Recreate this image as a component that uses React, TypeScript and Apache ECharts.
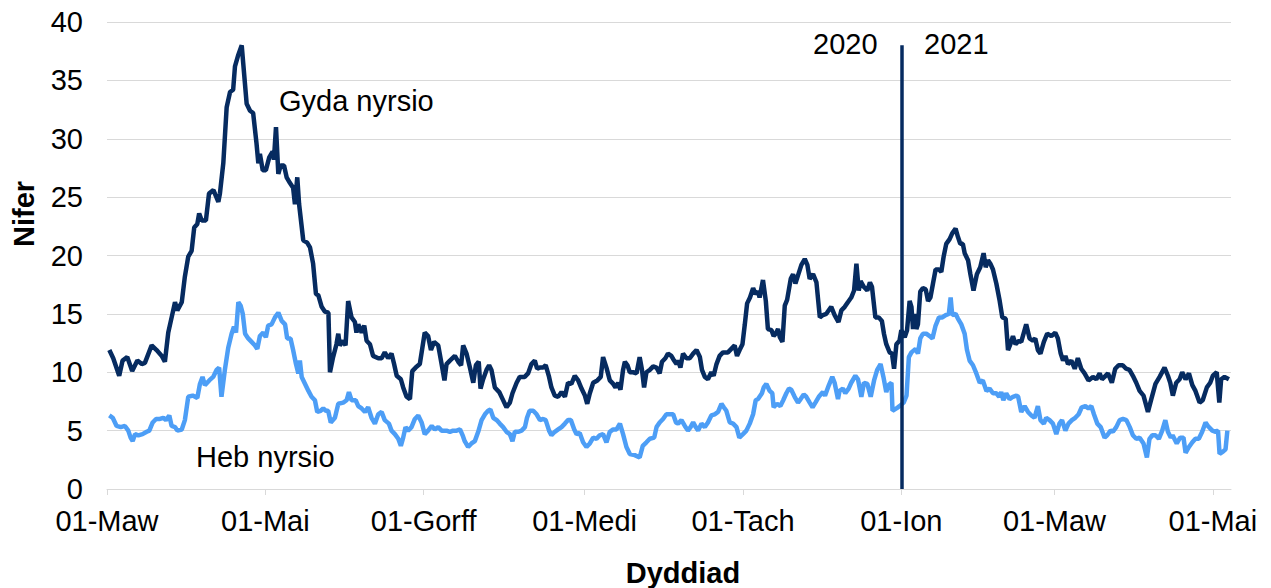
import React, { useEffect, useRef } from 'react';
import * as echarts from 'echarts';

// x values are days since 01-Mar-2020
const tickDays = [0, 61, 122, 184, 245, 306, 365, 426];
const tickLabels = ['01-Maw', '01-Mai', '01-Gorff', '01-Medi', '01-Tach', '01-Ion', '01-Maw', '01-Mai'];
const yearSplitDay = 306;

const withNursing: [number, number][] = [
  [0.9,11.9],[2.4,11.2],[4.7,9.7],[6.0,11.0],[7.8,11.3],[9.7,10.1],[11.7,11.0],[13.4,10.7],[14.6,10.8],[17.2,12.3],
  [19.1,11.9],[21.1,11.4],[22.3,10.9],[23.6,13.4],[24.9,14.7],[26.2,16.0],[27.1,15.3],[28.8,16.0],[30.0,18.2],[31.3,19.9],
  [32.6,20.4],[33.6,22.4],[34.8,22.7],[35.5,23.6],[36.5,23.0],[38.1,23.0],[39.3,25.3],[41.0,25.6],[42.9,24.6],[43.5,25.3],
  [44.8,27.9],[46.1,32.7],[47.4,34.0],[48.6,34.2],[49.3,36.2],[50.6,37.2],[51.9,38.0],[52.5,36.4],[53.8,33.0],[55.1,32.4],
  [56.3,32.2],[57.6,29.6],[58.3,27.9],[58.9,28.7],[60.0,27.3],[61.2,27.3],[62.5,28.4],[63.8,28.9],[64.3,28.2],[65.1,31.0],
  [66.0,27.0],[66.9,27.7],[68.2,27.7],[69.2,26.7],[70.5,26.2],[71.7,25.8],[72.4,24.4],[73.3,26.7],[74.0,24.4],[75.6,21.3],
  [77.1,21.1],[78.2,20.7],[79.4,19.3],[80.5,16.7],[81.4,16.6],[82.7,15.6],[83.9,15.2],[85.3,15.1],[85.9,10.0],[87.1,11.3],
  [88.4,12.4],[89.1,13.3],[89.7,12.3],[91.0,12.7],[91.9,12.3],[92.9,16.1],[94.2,14.7],[95.5,14.3],[96.1,13.4],[96.8,14.1],
  [98.1,13.4],[99.1,14.0],[100.0,12.7],[101.3,12.4],[102.5,11.4],[104.5,11.2],[105.8,11.2],[107.0,11.7],[108.3,11.2],[109.6,11.6],
  [110.6,10.7],[111.6,9.7],[113.2,9.4],[114.1,8.7],[115.4,7.9],[116.7,7.7],[117.6,10.1],[118.9,10.4],[120.5,10.7],[122.4,13.4],
  [123.7,13.1],[124.8,11.9],[126.0,12.6],[127.6,12.3],[128.9,10.7],[130.0,9.3],[130.8,10.7],[132.1,11.0],[134.0,11.4],[135.3,10.9],
  [136.4,10.6],[137.2,12.3],[138.5,11.6],[139.8,10.4],[141.1,9.1],[142.1,10.6],[143.2,10.9],[143.9,8.6],[144.9,9.4],[146.2,10.2],
  [147.2,10.6],[148.1,10.2],[149.4,8.7],[151.1,8.3],[152.4,7.7],[153.9,7.0],[155.2,7.4],[156.2,8.2],[157.8,9.1],[159.0,9.6],
  [160.9,9.6],[162.2,9.9],[163.5,10.7],[164.8,11.0],[165.7,10.3],[166.7,10.4],[168.0,10.4],[169.0,10.6],[170.3,9.6],[171.2,8.7],
  [172.5,8.0],[173.8,7.9],[175.1,8.3],[176.4,7.9],[177.6,9.1],[178.9,9.0],[180.2,9.7],[181.5,9.3],[182.8,8.6],[184.1,8.0],
  [185.0,7.3],[186.0,8.2],[187.3,9.1],[188.9,9.3],[190.2,9.6],[191.1,11.3],[192.4,10.4],[193.7,9.3],[195.0,9.0],[195.9,8.7],
  [196.9,9.1],[197.8,8.5],[198.8,10.2],[199.5,10.9],[200.5,10.6],[201.4,10.0],[202.7,10.0],[204.0,9.9],[205.2,11.3],[206.1,10.2],
  [206.9,8.7],[207.8,10.0],[209.1,10.2],[210.4,10.5],[211.7,10.4],[212.9,9.9],[213.8,10.9],[215.1,11.2],[216.1,11.6],[217.4,11.4],
  [218.2,11.1],[219.4,10.7],[220.0,11.0],[220.9,10.4],[221.9,11.6],[223.2,11.2],[224.5,11.2],[225.8,11.6],[227.1,11.9],[228.4,11.3],
  [229.2,10.2],[230.3,9.6],[231.5,9.4],[232.8,10.0],[233.7,9.7],[234.8,10.7],[236.0,11.4],[237.3,11.7],[239.2,11.7],[240.5,12.0],
  [241.8,12.3],[242.7,11.4],[243.7,11.9],[244.8,12.4],[245.7,14.1],[246.6,15.9],[247.7,16.4],[248.9,17.2],[249.9,16.7],[250.8,16.9],
  [251.4,16.4],[252.7,17.9],[253.8,16.1],[254.6,13.7],[256.0,13.6],[256.8,13.1],[257.6,13.3],[258.5,13.7],[259.2,13.0],[260.2,12.6],
  [261.1,15.7],[262.0,16.2],[263.4,18.0],[264.3,18.4],[265.2,17.6],[266.2,18.3],[267.5,19.2],[268.8,19.7],[269.8,19.2],[270.7,18.0],
  [272.0,18.4],[273.3,17.7],[274.6,14.7],[275.8,14.9],[277.1,15.0],[277.7,15.2],[279.0,15.6],[280.3,14.9],[281.8,14.3],[282.9,15.3],
  [284.2,15.6],[285.4,16.0],[286.7,16.4],[287.8,17.0],[288.7,19.3],[289.6,17.0],[290.3,17.8],[291.6,17.3],[292.9,17.0],[293.9,17.7],
  [294.7,17.3],[296.0,14.7],[297.3,14.7],[298.5,14.4],[299.3,13.3],[300.2,12.4],[301.5,11.7],[302.4,11.6],[303.2,10.3],[304.1,12.4],
  [305.3,12.7],[306.0,13.6],[307.3,13.0],[308.2,13.6],[309.2,16.1],[309.9,15.6],[310.5,13.7],[311.1,15.0],[311.8,13.7],[312.4,14.1],
  [313.3,16.9],[314.3,17.2],[315.4,17.1],[316.3,16.1],[317.2,16.4],[318.2,17.6],[319.2,18.8],[320.5,18.8],[321.4,18.6],[322.3,19.9],
  [323.3,21.0],[324.6,21.4],[325.6,21.9],[326.9,22.3],[327.8,21.6],[328.7,21.0],[329.7,21.0],[330.4,20.2],[331.7,19.6],[332.6,18.4],
  [333.8,17.0],[335.1,18.4],[336.4,19.0],[337.7,20.2],[338.5,19.0],[339.4,19.6],[340.3,19.3],[341.3,18.8],[342.6,17.6],[343.9,16.1],
  [344.9,14.7],[346.2,14.6],[347.1,11.9],[348.0,12.4],[349.0,13.1],[350.0,12.4],[351.3,12.7],[352.2,12.6],[354.1,14.1],[355.4,12.9],
  [356.7,12.7],[357.6,12.9],[358.6,11.9],[359.6,11.6],[360.9,12.6],[362.2,13.3],[363.8,13.1],[365.3,13.4],[366.3,12.9],[367.4,11.6],
  [368.3,11.0],[369.2,11.4],[370.2,10.7],[371.5,11.0],[372.8,10.3],[374.0,11.2],[375.3,10.3],[376.6,9.9],[378.1,9.3],[379.8,9.6],
  [381.1,9.4],[382.4,9.9],[383.3,9.4],[384.3,9.6],[385.6,9.9],[387.1,9.1],[388.4,10.3],[389.7,10.6],[391.3,10.6],[392.6,10.3],
  [393.9,10.2],[395.2,9.7],[396.5,9.1],[397.8,8.4],[399.3,8.0],[401.0,6.6],[402.3,7.7],[403.9,9.0],[405.5,9.6],[407.4,10.4],
  [408.7,9.7],[409.6,9.1],[410.6,8.0],[411.9,9.1],[413.2,9.4],[414.2,10.0],[415.5,9.4],[416.8,9.9],[418.1,8.9],[419.3,8.4],
  [420.9,7.4],[422.1,7.6],[423.7,8.7],[425.0,9.1],[426.0,9.7],[427.5,10.0],[428.5,7.4],[429.2,9.4],[430.5,9.6],[432.2,9.4]
];

const withoutNursing: [number, number][] = [
  [0.9,6.3],[2.2,6.1],[3.7,5.4],[5.3,5.3],[6.9,5.4],[8.2,5.0],[9.1,4.4],[9.9,4.1],[10.8,4.7],[12.1,4.6],
  [13.7,4.7],[15.3,4.9],[16.3,5.0],[17.6,5.7],[18.9,6.0],[20.4,6.0],[21.7,6.1],[22.7,5.9],[24.0,6.3],[24.9,5.4],
  [26.2,5.3],[27.1,5.0],[28.8,5.1],[30.0,5.9],[31.3,7.9],[33.0,8.0],[34.8,7.8],[35.8,9.0],[36.8,9.6],[37.7,8.9],
  [39.4,9.3],[40.9,9.6],[42.2,10.2],[43.2,10.4],[44.1,7.9],[45.4,10.2],[46.7,12.1],[48.0,13.3],[48.9,13.9],[49.7,13.4],
  [50.6,16.0],[51.5,15.7],[52.3,15.0],[53.2,13.3],[54.4,12.9],[55.7,12.6],[57.0,12.3],[57.9,12.0],[58.9,13.1],[60.2,13.4],
  [61.2,13.0],[62.1,14.0],[63.4,14.1],[64.7,14.7],[66.0,15.1],[67.3,14.4],[68.6,14.1],[69.4,12.9],[70.7,12.9],[71.7,11.9],
  [72.8,10.7],[73.7,9.9],[74.3,11.0],[75.0,9.6],[76.3,9.0],[77.6,8.4],[78.8,7.9],[80.1,7.6],[81.0,6.6],[82.3,6.7],
  [83.3,6.9],[84.3,6.7],[85.2,6.7],[86.2,5.7],[87.8,6.1],[89.1,7.3],[91.0,7.4],[92.3,7.6],[93.2,8.3],[94.2,7.6],
  [95.8,7.6],[96.8,7.1],[98.1,6.9],[99.4,6.6],[100.6,7.0],[101.9,6.1],[103.2,5.6],[104.5,6.4],[105.8,6.6],[107.0,5.9],
  [108.6,5.6],[109.6,5.0],[110.9,4.7],[112.2,4.3],[113.2,3.7],[114.1,4.4],[115.0,5.3],[116.0,5.0],[117.3,5.3],[118.6,6.0],
  [119.9,6.3],[121.2,5.7],[122.4,4.7],[123.7,5.0],[125.1,5.4],[126.3,5.1],[127.6,5.3],[128.9,5.0],[130.8,5.0],[132.1,4.9],
  [133.3,5.0],[134.7,5.0],[136.0,5.1],[137.0,4.6],[137.8,4.1],[139.1,3.6],[140.4,3.9],[141.7,4.1],[143.0,4.9],[144.3,5.9],
  [145.6,6.4],[146.8,6.7],[147.7,6.8],[148.8,6.1],[150.1,5.9],[151.3,5.6],[152.6,5.3],[153.9,4.9],[155.2,4.7],[156.2,4.1],
  [157.1,4.9],[158.4,4.9],[159.7,5.0],[161.0,5.3],[161.8,6.1],[162.8,6.7],[164.2,6.7],[165.5,6.4],[166.8,5.9],[168.0,6.0],
  [169.0,5.9],[170.3,5.0],[171.2,4.6],[172.5,4.9],[173.8,5.1],[175.1,5.3],[176.4,5.6],[177.6,5.9],[178.7,5.9],[180.0,5.1],
  [180.9,4.7],[182.1,4.8],[183.4,4.0],[184.7,3.6],[186.0,3.9],[187.3,4.4],[188.6,4.3],[189.8,4.6],[191.1,4.7],[192.4,4.0],
  [193.7,4.9],[195.0,5.1],[196.3,5.1],[197.6,5.6],[198.8,4.7],[200.1,3.6],[201.4,3.0],[203.3,2.9],[205.2,2.7],[206.4,3.7],
  [207.8,4.0],[209.1,4.3],[210.8,4.4],[211.7,5.3],[212.9,5.7],[214.2,6.0],[215.5,6.4],[216.8,6.4],[218.1,6.4],[219.2,5.7],
  [220.0,5.6],[221.3,5.9],[222.6,5.4],[223.8,5.0],[224.8,5.3],[225.8,5.7],[226.8,5.3],[227.7,5.0],[229.0,5.6],[230.3,5.3],
  [231.5,5.7],[232.8,6.3],[234.1,6.4],[235.4,6.6],[236.7,7.3],[237.6,7.0],[238.6,6.7],[239.9,5.7],[241.2,5.6],[242.5,5.3],
  [243.6,4.4],[245.0,4.7],[246.3,5.0],[247.6,5.6],[248.9,6.4],[249.9,7.6],[250.8,7.7],[252.3,8.2],[253.0,8.7],[254.0,9.0],
  [255.3,8.4],[256.3,8.2],[256.8,7.0],[258.1,7.3],[259.4,7.1],[260.5,7.6],[261.7,8.2],[262.7,8.6],[263.6,8.5],[264.9,7.9],
  [266.2,7.4],[267.2,7.7],[268.4,8.1],[269.4,7.9],[270.7,7.4],[271.8,7.0],[272.9,7.4],[274.2,7.9],[275.8,8.3],[276.6,8.0],
  [278.1,8.9],[279.4,9.6],[280.3,9.1],[281.6,7.7],[282.2,8.4],[283.5,8.6],[284.4,8.2],[285.7,8.6],[286.7,9.1],[288.3,9.7],
  [289.3,9.4],[290.6,7.9],[291.6,9.1],[292.9,9.0],[294.2,7.9],[295.5,9.3],[296.7,10.2],[298.0,10.7],[299.1,9.6],[300.2,8.3],
  [301.1,8.9],[302.2,9.1],[302.6,6.7],[304.1,6.9],[305.3,7.1],[306.9,7.4],[308.0,8.0],[308.9,11.3],[309.9,11.7],[311.5,12.0],
  [312.4,11.6],[313.3,12.9],[314.3,13.3],[315.6,13.3],[316.9,13.1],[318.0,12.9],[319.2,14.0],[320.5,14.7],[321.8,14.7],[323.1,14.9],
  [324.3,15.0],[325.0,16.4],[325.6,14.9],[326.9,15.0],[327.8,14.6],[329.1,14.1],[330.4,13.3],[331.3,11.9],[332.3,11.0],[333.6,10.6],
  [334.9,9.9],[336.2,9.1],[337.4,9.3],[338.8,8.4],[340.0,8.6],[341.3,8.2],[342.6,8.2],[343.7,7.9],[344.5,8.3],[345.3,7.6],
  [346.4,8.2],[347.7,7.7],[349.0,7.9],[350.3,8.0],[351.0,7.9],[352.2,6.6],[353.5,7.1],[354.8,6.6],[356.1,6.3],[357.3,6.1],
  [358.6,7.1],[359.6,5.9],[360.9,5.6],[361.8,6.1],[363.1,5.9],[364.4,5.6],[365.7,4.7],[366.9,5.6],[367.9,5.9],[369.2,5.0],
  [370.4,5.6],[371.7,5.9],[373.0,6.1],[374.3,6.4],[375.5,7.0],[376.9,7.1],[378.1,6.9],[379.2,7.1],[380.2,6.4],[381.5,5.6],
  [382.8,5.3],[384.3,4.4],[385.3,4.6],[386.6,5.0],[387.5,4.9],[388.8,5.3],[390.1,5.9],[391.4,6.0],[392.7,5.9],[394.0,5.3],
  [395.2,4.6],[396.5,4.3],[397.8,4.4],[399.3,3.9],[400.6,2.7],[401.6,4.3],[402.7,4.6],[403.9,4.6],[405.2,4.3],[406.5,5.0],
  [407.7,5.9],[408.7,4.9],[409.8,4.4],[410.5,4.6],[412.1,3.9],[413.4,4.4],[414.7,4.4],[415.5,3.1],[416.8,3.6],[418.1,4.0],
  [419.3,4.3],[420.6,4.3],[421.9,4.9],[423.2,5.7],[424.1,5.4],[425.8,5.0],[427.1,4.9],[428.0,5.0],[428.6,3.0],[429.9,3.2],
  [430.9,3.4],[431.6,5.0]
];

const DARK = '#062b60';
const LIGHT = '#4d9ef6';
const FONT = '"Liberation Sans", Arial, sans-serif';
const FS = 29;

export default function App() {
  const ref = useRef<HTMLDivElement>(null);
  useEffect(() => {
    if (!ref.current) return;
    const chart = echarts.init(ref.current, undefined, { renderer: 'svg' });
    chart.setOption({
      animation: false,
      backgroundColor: '#ffffff',
      grid: { left: 107, right: 40, top: 22, bottom: 99, containLabel: false },
      xAxis: {
        type: 'value',
        min: 0,
        max: 433,
        axisLine: { show: true, lineStyle: { color: '#d9d9d9', width: 1 } },
        axisTick: { show: true, customValues: tickDays, length: 6, lineStyle: { color: '#d9d9d9' } },
        axisLabel: {
          customValues: tickDays,
          formatter: (v: number) => {
            const i = tickDays.indexOf(Math.round(v));
            return i >= 0 ? tickLabels[i] : '';
          },
          fontSize: FS,
          color: '#000',
          fontFamily: FONT,
          margin: 17,
        },
        splitLine: { show: false },
      },
      yAxis: {
        type: 'value',
        min: 0,
        max: 40,
        interval: 5,
        axisLine: { show: false },
        axisTick: { show: false },
        axisLabel: { fontSize: FS, color: '#000', fontFamily: FONT, margin: 24 },
        splitLine: { lineStyle: { color: '#d9d9d9', width: 1 } },
      },
      series: [
        {
          name: 'Heb nyrsio',
          type: 'line',
          data: withoutNursing,
          showSymbol: false,
          lineStyle: { color: LIGHT, width: 4.5 },
          itemStyle: { color: LIGHT },
          silent: true,
        },
        {
          name: 'Gyda nyrsio',
          type: 'line',
          data: withNursing,
          showSymbol: false,
          lineStyle: { color: DARK, width: 4.5 },
          itemStyle: { color: DARK },
          silent: true,
          markLine: {
            silent: true,
            symbol: 'none',
            label: { show: false },
            lineStyle: { color: DARK, width: 3.5, type: 'solid' },
            data: [[{ coord: [yearSplitDay, 0] }, { coord: [yearSplitDay, 38] }]],
          },
        },
      ],
      graphic: [
        { type: 'text', x: 24, y: 214, rotation: Math.PI / 2, style: { text: 'Nifer', font: `bold ${FS}px ${FONT}`, fill: '#000', textAlign: 'center', textVerticalAlign: 'middle' } },
        { type: 'text', x: 683, y: 573, style: { text: 'Dyddiad', font: `bold ${FS}px ${FONT}`, fill: '#000', textAlign: 'center', textVerticalAlign: 'middle' } },
        { type: 'text', x: 279, y: 101, style: { text: 'Gyda nyrsio', font: `${FS}px ${FONT}`, fill: '#000', textAlign: 'left', textVerticalAlign: 'middle' } },
        { type: 'text', x: 196, y: 457, style: { text: 'Heb nyrsio', font: `${FS}px ${FONT}`, fill: '#000', textAlign: 'left', textVerticalAlign: 'middle' } },
        { type: 'text', x: 813, y: 44, style: { text: '2020', font: `${FS}px ${FONT}`, fill: '#000', textAlign: 'left', textVerticalAlign: 'middle' } },
        { type: 'text', x: 924, y: 44, style: { text: '2021', font: `${FS}px ${FONT}`, fill: '#000', textAlign: 'left', textVerticalAlign: 'middle' } },
      ],
    });
    return () => chart.dispose();
  }, []);
  return <div ref={ref} style={{ position: 'absolute', left: 0, top: 0, width: 1271, height: 588, background: '#fff' }} />;
}
